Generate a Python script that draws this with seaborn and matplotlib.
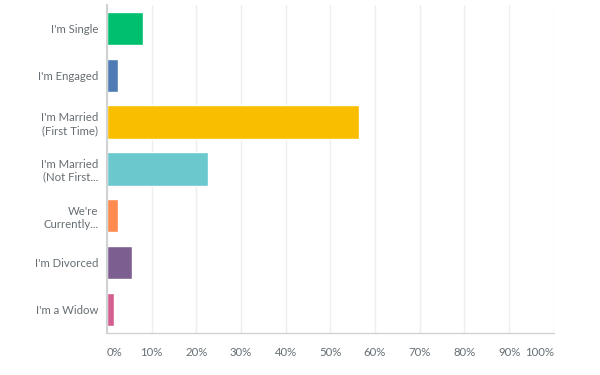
import pandas as pd
import seaborn as sns
import matplotlib.pyplot as plt

categories = ["I'm Single", "I'm Engaged", "I'm Married\n(First Time)",
              "I'm Married\n(Not First...", "We're\nCurrently...",
              "I'm Divorced", "I'm a Widow"]
percent = [8.0, 2.4, 56.5, 22.6, 2.4, 5.6, 1.6]
colors = ["#00BF6F", "#507CB6", "#F9BE00", "#6BC8CD", "#FF8B4F", "#7D5E90", "#D25F90"]
ticks = [0, 10, 20, 30, 40, 50, 60, 70, 80, 90, 100]
tick_labels = [f"{t}%" for t in ticks]

df = pd.DataFrame({"answer": categories, "pct": percent})

sns.set_style("white")
plt.rcParams['font.family'] = ['Lato', 'DejaVu Sans']

fig, ax = plt.subplots(figsize=(6, 3.75), dpi=100)
fig.subplots_adjust(left=0.178, right=0.923, top=0.987, bottom=0.112)

sns.barplot(data=df, x="pct", y="answer", hue="answer", palette=colors,
            legend=False, width=0.71, ax=ax, saturation=1)

ax.set_xlim(0, 100)
ax.set_ylim(6.5, -0.5)
ax.set_xticks(ticks)
ax.set_xticklabels(tick_labels)
for i, lab in enumerate(ax.get_xticklabels()):
    if i == 0:
        lab.set_ha('left')
    elif i == len(ticks) - 1:
        lab.set_ha('right')
ax.set_xlabel("")
ax.set_ylabel("")
ax.xaxis.grid(True, color="#EDEEEE", linewidth=1)
ax.set_axisbelow(True)
ax.tick_params(axis='both', length=0, labelsize=8.2, labelcolor="#666E73")
ax.tick_params(axis='x', pad=10)
ax.tick_params(axis='y', pad=6)
for s in ['top', 'right']:
    ax.spines[s].set_visible(False)
ax.spines['left'].set_color("#D0D2D3")
ax.spines['left'].set_linewidth(1.5)
ax.spines['bottom'].set_color("#D0D2D3")
ax.spines['bottom'].set_linewidth(1)

fig.savefig("out.png", dpi=100)
